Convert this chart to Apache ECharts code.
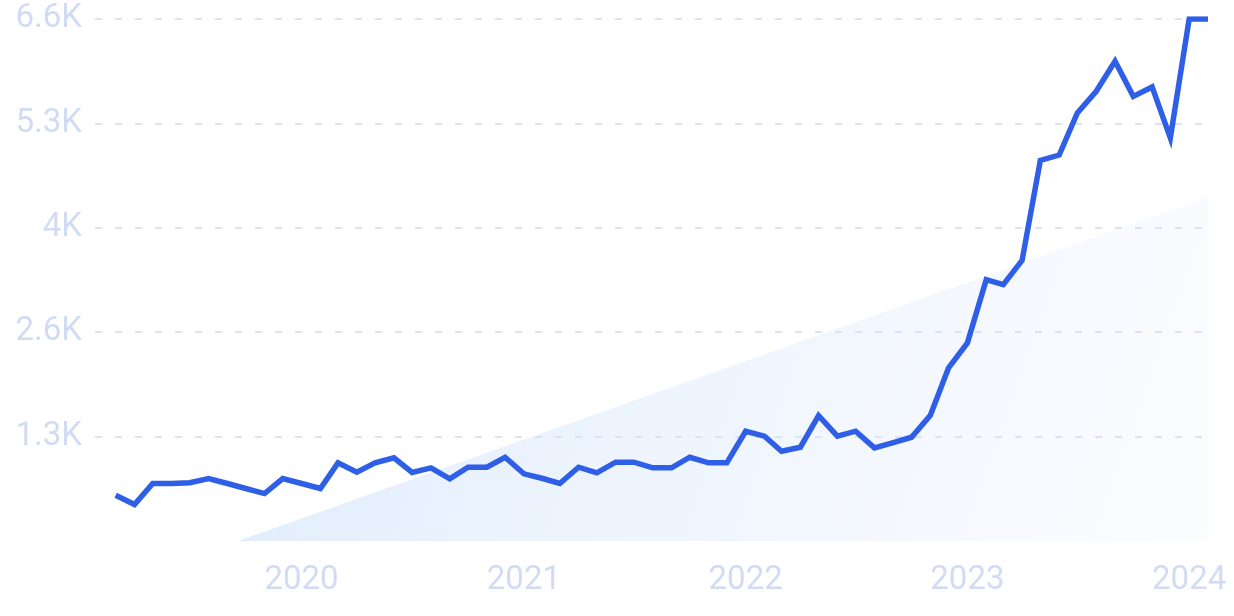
<!DOCTYPE html>
<html>
<head>
<meta charset="utf-8">
<script src="https://cdn.jsdelivr.net/npm/echarts@6/dist/echarts.min.js"></script>
<style>
html,body{margin:0;padding:0;background:#ffffff;}
#chart{width:1234px;height:616px;}
</style>
</head>
<body>
<div id="chart"></div>
<script>
// Monthly dates (first of month)
const months = [
  '2019-03-01','2019-04-01','2019-05-01','2019-06-01','2019-07-01','2019-08-01','2019-09-01','2019-10-01','2019-11-01','2019-12-01',
  '2020-01-01','2020-02-01','2020-03-01','2020-04-01','2020-05-01','2020-06-01','2020-07-01','2020-08-01','2020-09-01','2020-10-01','2020-11-01','2020-12-01',
  '2021-01-01','2021-02-01','2021-03-01','2021-04-01','2021-05-01','2021-06-01','2021-07-01','2021-08-01','2021-09-01','2021-10-01','2021-11-01','2021-12-01',
  '2022-01-01','2022-02-01','2022-03-01','2022-04-01','2022-05-01','2022-06-01','2022-07-01','2022-08-01','2022-09-01','2022-10-01','2022-11-01','2022-12-01',
  '2023-01-01','2023-02-01','2023-03-01','2023-04-01','2023-05-01','2023-06-01','2023-07-01','2023-08-01','2023-09-01','2023-10-01','2023-11-01','2023-12-01',
  '2024-01-01','2024-02-01'
];
const searches = [
  579, 461, 727, 727, 736, 790, 727, 664, 600, 790,
  727, 664, 988, 870, 988, 1052, 866, 925, 786, 933, 933, 1059,
  849, 790, 727, 933, 862, 996, 996, 925, 925, 1059, 988, 988,
  1388, 1325, 1135, 1186, 1586, 1325, 1388, 1178, 1245, 1312, 1590, 2189,
  2505, 3305, 3242, 3547, 4812, 4880, 5412, 5686, 6065, 5622, 5741, 5096,
  6600, 6600
];
// Trend area (linear), endpoints
const trendDates = ['2019-09-18', '2024-02-01'];
const trendValues = [0, 4346];
// Y axis
const yMax = 6600;
const yInterval = 1320;
const yTickLabels = ['', '1.3K', '2.6K', '4K', '5.3K', '6.6K'];
const xMin = '2019-01-26';
const xMax = '2024-02-01';

const chart = echarts.init(document.getElementById('chart'), null, {renderer: 'canvas'});
const labelColor = '#d2dbf4';
const font = 'Roboto';

chart.setOption({
  animation: false,
  backgroundColor: '#ffffff',
  grid: {left: 95, right: 26, top: 19, bottom: 75, containLabel: false},
  xAxis: {
    type: 'time',
    min: xMin,
    max: xMax,
    splitNumber: 5,
    axisLine: {show: false},
    axisTick: {show: false},
    splitLine: {show: false},
    axisLabel: {
      color: labelColor,
      fontFamily: font,
      fontSize: 33,
      margin: 23,
      showMinLabel: false,
      showMaxLabel: false,
      formatter: {year: '{yyyy}', month: '', day: '', hour: '', minute: '', second: '', millisecond: ''}
    }
  },
  yAxis: {
    type: 'value',
    min: 0,
    max: yMax,
    interval: yInterval,
    axisLine: {show: false},
    axisTick: {show: false},
    splitLine: {
      show: true,
      showMinLine: false,
      lineStyle: {color: '#d8e2f8', width: 2, type: [7, 13]}
    },
    axisLabel: {
      color: labelColor,
      fontFamily: font,
      fontSize: 33,
      margin: 13,
      formatter: function (v) { return yTickLabels[Math.round(v / yInterval)] || ''; }
    }
  },
  series: [
    {
      type: 'line',
      data: trendDates.map((d, i) => [d, trendValues[i]]),
      showSymbol: false,
      symbol: 'none',
      lineStyle: {width: 0},
      silent: true,
      z: 1,
      areaStyle: {
        opacity: 1,
        color: new echarts.graphic.LinearGradient(0, 0, 1, 1, [
          {offset: 0, color: 'rgba(200,222,250,0.6)'},
          {offset: 1, color: 'rgba(225,236,252,0.15)'}
        ])
      }
    },
    {
      type: 'line',
      data: months.map((d, i) => [d, searches[i]]),
      showSymbol: false,
      symbol: 'none',
      z: 3,
      lineStyle: {color: '#2f5fe6', width: 5.5, join: 'miter'}
    }
  ]
});
</script>
</body>
</html>
